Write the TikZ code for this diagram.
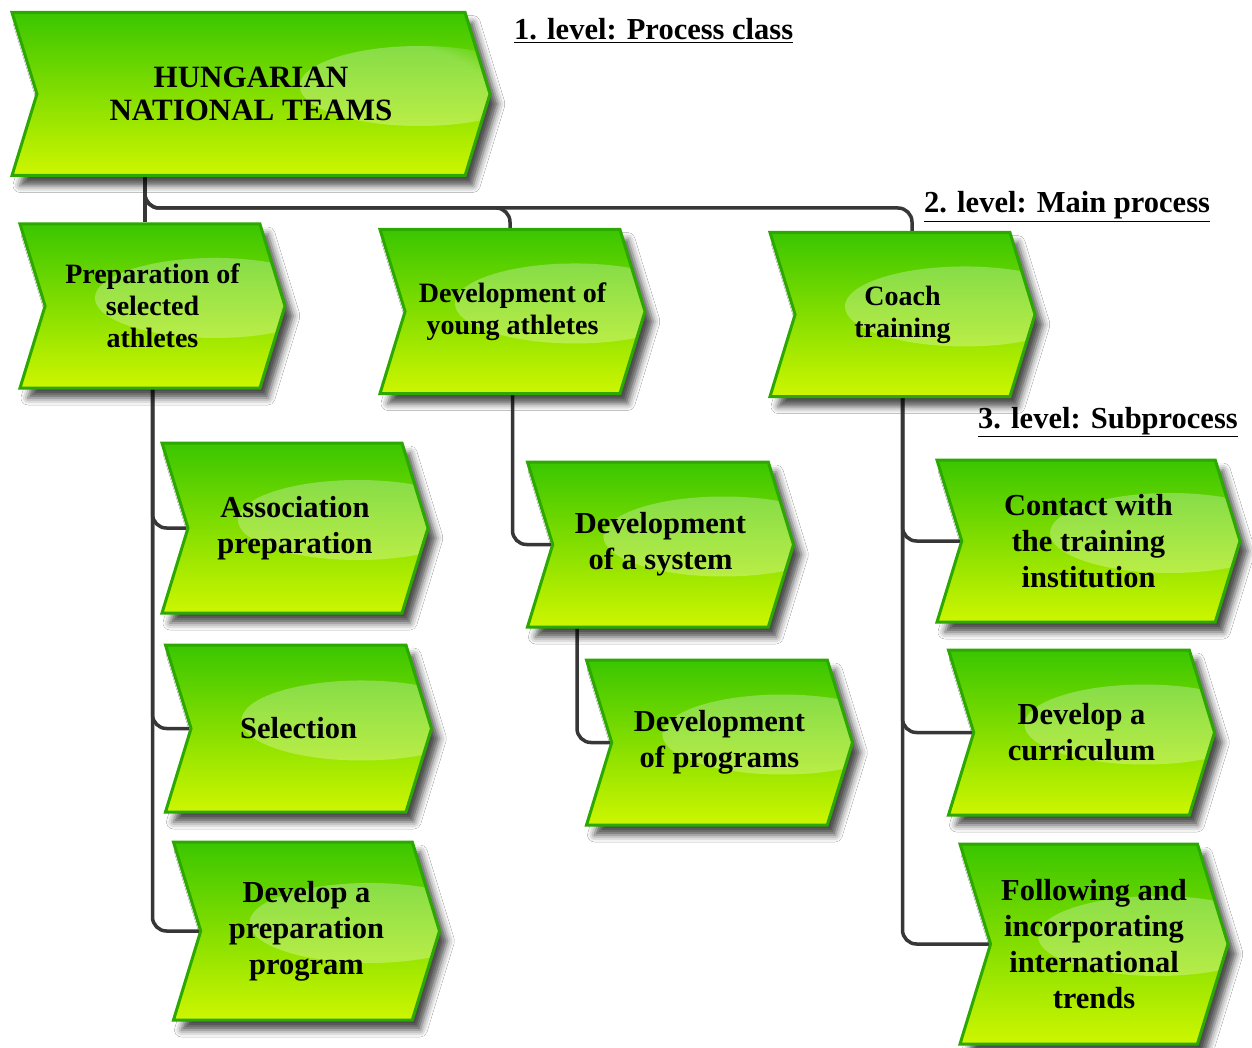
\documentclass[tikz,border=0pt]{standalone}
\usepackage{fontspec}
\setmainfont{Liberation Serif}
\usetikzlibrary{shapes.symbols,shadows.blur,fadings,calc,backgrounds}

\definecolor{procTop}{RGB}{58,198,0}
\definecolor{procBot}{RGB}{205,246,0}
\definecolor{procEdge}{RGB}{44,168,0}
\definecolor{wire}{RGB}{55,55,55}

\tikzset{
  proc/.style={signal, signal to=east, signal from=west, signal pointer angle=146,
    draw=procEdge, line width=3pt, top color=procTop, bottom color=procBot,
    align=center, inner sep=0pt, text=black,
    blur shadow={shadow xshift=8pt, shadow yshift=-10pt, shadow blur radius=7pt, shadow opacity=70},
    path picture={\fill[white, opacity=0.28, path fading=circle with fuzzy edge 20 percent]
      ($(path picture bounding box.east)+(-70pt,8pt)$) ellipse (120pt and 40pt);}},
  lvlone/.style={proc, font=\bfseries\fontsize{31}{33}\selectfont},
  lvltwo/.style={proc, minimum width=265pt, minimum height=164pt, font=\bfseries\fontsize{28}{32}\selectfont},
  lvlthree/.style={proc, minimum width=266pt, minimum height=166pt, font=\bfseries\fontsize{30.5}{36}\selectfont},
  conn/.style={draw=wire, line width=3.5pt, rounded corners=14pt},
  lbl/.style={anchor=base west, inner sep=0pt, font=\bfseries\fontsize{30.5}{32}\selectfont},
}

\begin{document}
\begin{tikzpicture}[x=1pt, y=-1pt]
\useasboundingbox (0,0) rectangle (1252,1048);

% process class
\node[lvlone, minimum width=478pt, minimum height=163pt] (hnt) at (251,94) {HUNGARIAN\\NATIONAL TEAMS};

% main processes
\node[lvltwo] (prep)  at (152.5,306) {Preparation of\\selected\\athletes};
\node[lvltwo] (young) at (512.5,311.5) {Development of\\young athletes};
\node[lvltwo] (coach) at (902.5,314.5) {Coach\\training};

% subprocesses
\node[lvlthree, minimum height=170pt] (assoc) at (295,528) {Association\\preparation};
\node[lvlthree, minimum height=167pt] (select) at (298.5,728.5) {Selection};
\node[lvlthree, minimum height=178pt] (devprep) at (306.5,931) {Develop a\\preparation\\program};
\node[lvlthree, minimum height=165pt] (system) at (660.5,544.5) {Development\\of a system};
\node[lvlthree, minimum height=165pt] (programs) at (719.5,742.5) {Development\\of programs};
\node[lvlthree, minimum width=303pt, minimum height=162pt] (contact) at (1088.5,541) {Contact with\\the training\\institution};
\node[lvlthree, minimum height=165pt] (curric) at (1081.5,732.5) {Develop a\\curriculum};
\node[lvlthree, minimum width=268pt, minimum height=200pt] (follow) at (1094,944) {Following and\\incorporating\\international\\trends};

% level captions
\node[lbl] (capone) at (514,40) {\underline{1. level: Process class}};
\node[lbl] (captwo) at (924,213) {\underline{2. level: Main process}};
\node[lbl] (capthree) at (978,428) {\underline{3. level: Subprocess}};

% connectors, behind the boxes on a white page
\coordinate (busL) at (145,208);
\coordinate (busM) at (510,208);
\coordinate (busR) at (912,208);
\coordinate (sysx) at (577,0);
\begin{scope}[on background layer]
  \fill[white] (0,0) rectangle (1252,1048);
  \draw[conn] (hnt.south -| busL) -- (prep.north -| busL);
  \draw[conn] (hnt.south -| busL) -- (busL) -- (busM) -- (young.north -| busM);
  \draw[conn] (hnt.south -| busL) -- (busL) -- (busR) -- (coach.north -| busR);
  \draw[conn] (prep.south) |- (assoc.west);
  \draw[conn] (prep.south) |- (select.west);
  \draw[conn] (prep.south) |- (devprep.west);
  \draw[conn] (young.south) |- (system.west);
  \draw[conn] (system.south -| sysx) |- (programs.west);
  \draw[conn] (coach.south) |- (contact.west);
  \draw[conn] (coach.south) |- (curric.west);
  \draw[conn] (coach.south) |- (follow.west);
\end{scope}
\end{tikzpicture}
\end{document}
